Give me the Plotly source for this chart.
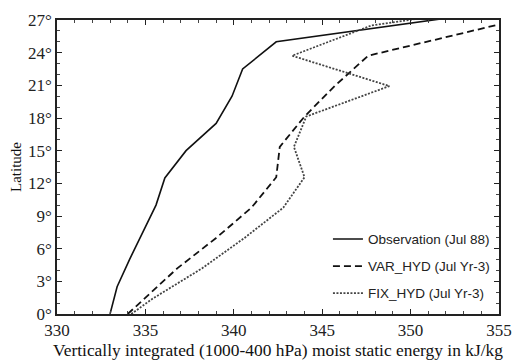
import plotly.graph_objects as go

# Observation on a 2.5 degree grid
obs_lat = [0, 2.5, 5, 7.5, 10, 12.5, 15, 17.5, 20, 22.5, 25, 27.5]
obs_mse = [333.0, 333.4, 334.1, 334.85, 335.6, 336.1, 337.3, 339.0, 339.9, 340.5, 342.4, 353.5]

# Model runs on the T42 grid
mod_lat = [0, 1.40, 4.19, 6.98, 9.77, 12.56, 15.35, 18.14, 20.93, 23.72, 26.51, 29.30]
var_mse = [334.0, 334.95, 336.8, 339.0, 341.0, 342.4, 342.6, 344.0, 345.7, 347.6, 354.9, 362.0]
fix_mse = [334.2, 335.4, 338.2, 340.6, 342.8, 344.0, 343.4, 344.1, 348.8, 343.3, 347.8, 359.7]

names = ["Observation (Jul 88)", "VAR_HYD (Jul Yr-3)", "FIX_HYD (Jul Yr-3)"]

x_title = "Vertically integrated (1000-400 hPa) moist static energy in kJ/kg"
y_title = "Latitude"

fig = go.Figure()
fig.add_trace(go.Scatter(x=obs_mse, y=obs_lat, mode="lines", name=names[0], legendgroup="a",
                         line=dict(color="#111111", width=1.6)))
fig.add_trace(go.Scatter(x=var_mse, y=mod_lat, mode="lines", name=names[1], legendgroup="b",
                         line=dict(color="#111111", width=1.8, dash="7px,4px")))
fig.add_trace(go.Scatter(x=fix_mse, y=mod_lat, mode="lines", name=names[2], legendgroup="c",
                         line=dict(color="#444444", width=1.8, dash="2px,1.5px")))

serif = "Liberation Serif"

fig.update_layout(
    width=523, height=364,
    margin=dict(l=57, r=11, t=14, b=48),
    plot_bgcolor="white", paper_bgcolor="white",
    font=dict(family=serif, size=17, color="#222222"),
    xaxis=dict(
        range=[330, 355], dtick=5, tick0=330,
        showline=True, linecolor="#222222", linewidth=1.5, mirror="allticks",
        ticks="inside", ticklen=5, tickwidth=1, tickcolor="#222222",
        showgrid=False, zeroline=False,
        tickfont=dict(family=serif, size=17, color="#222222"),
        minor=dict(dtick=1, ticks="inside", ticklen=3, tickcolor="#444444"),
        title=dict(text=x_title, font=dict(family=serif, size=17.4, color="#111111"), standoff=1),
    ),
    yaxis=dict(
        range=[0, 27], dtick=3, tick0=0, ticksuffix="°",
        showline=True, linecolor="#222222", linewidth=1.5, mirror="allticks",
        ticks="inside", ticklen=5, tickwidth=1, tickcolor="#222222",
        showgrid=False, zeroline=False,
        tickfont=dict(family=serif, size=17, color="#222222"),
        minor=dict(dtick=1, ticks="inside", ticklen=3, tickcolor="#444444"),
        title=dict(text=y_title, font=dict(family=serif, size=15, color="#111111"), standoff=3),
    ),
    legend=dict(x=0.613, y=0.018, xanchor="left", yanchor="bottom",
                font=dict(family="Liberation Sans", size=13.5, color="#222222"),
                tracegroupgap=6.5, bgcolor="rgba(0,0,0,0)"),
)

fig.write_html("out.html")
